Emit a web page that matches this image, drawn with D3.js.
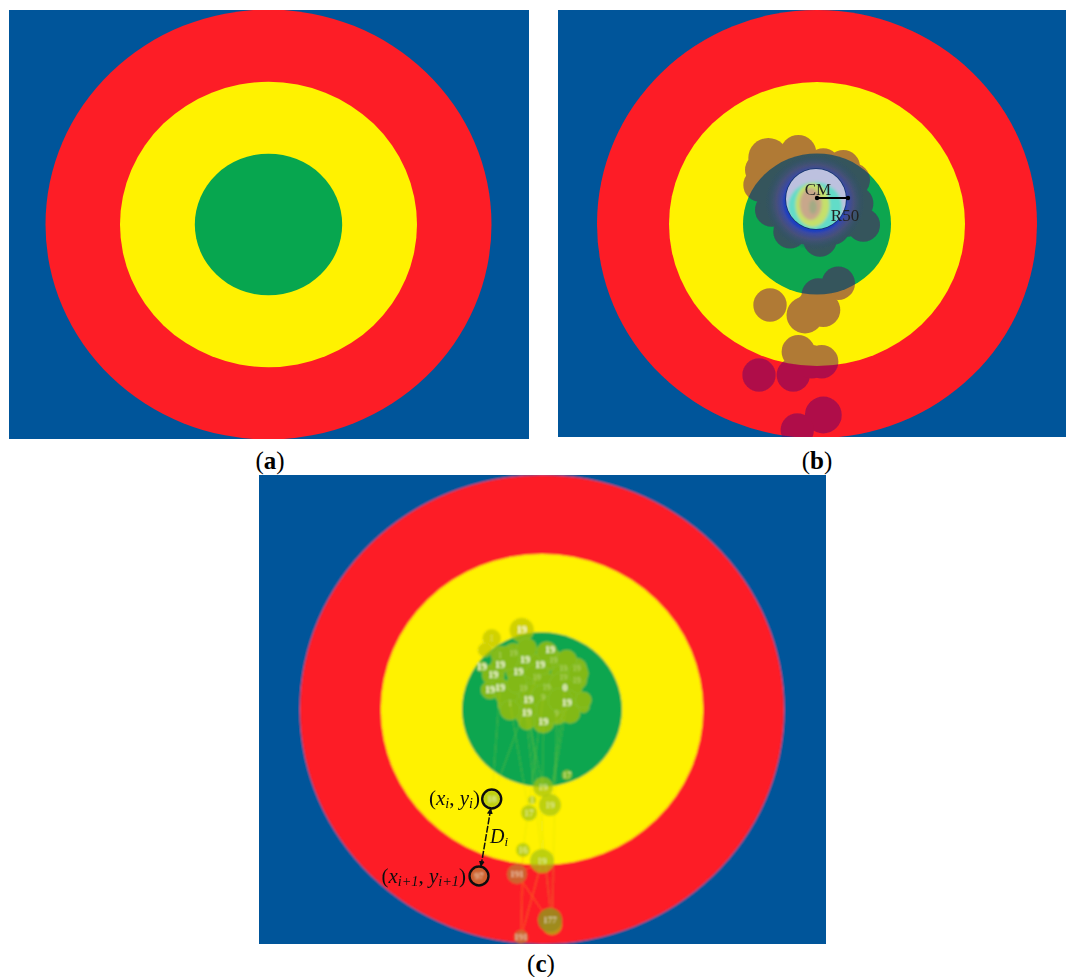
<!DOCTYPE html>
<html><head><meta charset="utf-8">
<script src="https://cdn.jsdelivr.net/npm/d3@7/dist/d3.min.js"></script>
<style>html,body{margin:0;padding:0;background:#fff}svg{display:block}
text{font-family:"Liberation Serif",serif}</style></head><body>
<div id="chart"></div>
<script>
// target ring radii in target units: [x radius, y radius], outermost first
const ringNames = ["red","yellow","green"];
const ringRx = [220,146.5,72.7];
const ringRxB = [220,148,74];
const ringRy = [214,142,70.5];
// panel (b): fixation heat blobs, in target units from the target centre
const heatU = [-48.7,-18.7,6.3,-55.3,-57,-45.3,-27,3,29.7,46.3,39.7,36.3,26.3,-7,-33.7,-47,-17,-0.3,16.3,-17,16.3,-27,-10,16,30,-40,30,21.3,1.3,-47,-12,6.3,-3.7,-18.7,4.7,-23.7,-5.3,-58,6.3,-19.7];
const heatV = [66,71,59,54,39,14,-7.7,-16,4,-1,20.7,44,57.3,54,54,34,20.7,4,20.7,40.7,40.7,8,-4,-4,16,24,32,-59.3,-71,-81,-91,-86,-82.7,-127.7,-137.7,-151,-137.7,-151,-191,-206];
const heatR = [20,18,16.7,16.7,16.7,16.7,16.7,16.7,16.7,16.7,16.7,16.7,16.7,16.7,16.7,16.7,16.7,16.7,16.7,16.7,16.7,16.7,16.7,16.7,16.7,16.7,16.7,16.7,16.7,16.7,18.5,17,16.7,16.7,16.7,16.7,16.7,16.7,18.5,16.7];
// panel (b): core contours of the heat map [centre u, centre v, rx, ry]
const coreU = [-1,-2,-4.5,-6.3,-4];
const coreV = [25,17,19,20,17];
const coreRx = [30,27,17,11,4];
const coreRy = [30,25,22,16,7];
// panel (c): raw gaze points (pixels of the stimulus) and their radii
const gazeX = [262.7,232.7,226,241,254.3,266,281,294.3,304.3,317.7,234.3,241,259.3,277.7,304.3,317.7,231,241,264.3,287.7,306,269.3,284.3,307.7,267.7,284.3,297.7,251,324.3,291,222.7,247.7,267.7,287.7,307.7,319.3,247.7,251,267.7,311,324.3,291,257.7,301];
const gazeY = [155,163.3,175,180,178.3,185,190,185,193.3,193.3,200,190,196.7,201.7,201.7,205,215,213.3,213.3,211.7,213.3,225,221.7,228.3,238.3,246.7,238.3,228.3,231.7,175,191.7,183.3,173.3,176.7,185,198.3,218.3,235,246.7,238.3,225,235,208.3,225];
const gazeR = [12,9,7,9,10,12,12,10,11,10,11,9,12,13,13,10,9,10,12,13,17,17,12,14,12,11,11,12,6,6,5,12,10,10,10,10,12,10,8,10,8,14,10,12];
const lowX = [232.7,270,291,284,308,273,264,283,293];
const lowY = [324,338,330,312,300,325,375,386,450];
const lowR = [9,8,11,10,5,4,7,12,10];
const lateX = [220,258,291,262];
const lateY = [401,399,445,462];
const lateR = [9,10,12,7];
const fixLabels = ["19",null,null,null,null,"19","19",null,null,null,"19","19","19",null,null,null,"19","19",null,null,"0","19",null,"19","19","19",null,null,null,"19","19"];
const faintLabels = [null,"1",null,"1","19",null,null,"19","19","19",null,null,null,"19","19","19",null,null,"19","19",null,null,"9",null,null,null,"9","1"];
const lowLabels = ["18","17","19","19","17","1","16","19",null];
const lateLabels = ["97","191","177","191"];
// saccades from the cluster down to the lower fixations: [from index, to low index]
const linkFrom = [13,20,24,25,26,23,27,22,18,21,17];
const linkTo = [0,2,3,7,8,2,1,6,7,8,0];
const lateFrom = [8,7,7,6,8];
const lateTo = [2,1,3,3,1];
const captions = ["a","b","c"];

const colours = {blue:"#00559a",red:"#fd1d26",yellow:"#fff200",green:"#07a64f"};
const ringFill = [colours.red,colours.yellow,colours.green];
const W=1066,H=977;
const svg=d3.select("#chart").append("svg").attr("width",W).attr("height",H).attr("viewBox",`0 0 ${W} ${H}`);
const defs=svg.append("defs");
const blur=(id,s)=>defs.append("filter").attr("id",id).attr("x","-5%").attr("y","-5%").attr("width","110%").attr("height","110%")
  .append("feGaussianBlur").attr("stdDeviation",s);
blur("soft",0.7);blur("soft2",0.8);blur("ink",0.35);
const bc=defs.append("filter").attr("id","coreblur").attr("x","-30%").attr("y","-30%").attr("width","160%").attr("height","160%");
bc.append("feGaussianBlur").attr("stdDeviation",1.5);

function panel(id,left,top,right,bottom,cx,cy,kx,ky,filter,rx){
  const xd=[(left-cx)/kx,(right-cx)/kx], yd=[(cy-bottom)/ky,(cy-top)/ky];
  const x=d3.scaleLinear().domain(xd).range([left,right]);
  const y=d3.scaleLinear().domain(yd).range([bottom,top]);
  defs.append("clipPath").attr("id","clip"+id).append("rect").attr("x",left).attr("y",top).attr("width",right-left).attr("height",bottom-top);
  const outer=svg.append("g").attr("clip-path",`url(#clip${id})`);
  const g=outer.append("g");
  if(filter) g.attr("filter",`url(#${filter})`);
  g.append("rect").attr("x",left-4).attr("y",top-4).attr("width",right-left+8).attr("height",bottom-top+8).attr("fill",colours.blue);
  g.selectAll("ellipse.ring").data(ringNames).join("ellipse").attr("class","ring")
    .attr("cx",x(0)).attr("cy",y(0))
    .attr("rx",(d,i)=>x(rx[i])-x(0)).attr("ry",(d,i)=>y(0)-y(ringRy[i]))
    .attr("fill",(d,i)=>ringFill[i]);
  return {g,outer,x,y};
}
// (a)
panel("a",9,10,529,439,268.5,224.5,1.0136,1.0047,null,ringRx);

// (b)
const b=panel("b",558,10,1066,437,817,224,1,1,"soft",ringRxB);
const grad=defs.append("radialGradient").attr("id","halo");
[[0,"#1d3fc0",1],[0.6,"#1d3fc0",1],[0.66,"#3a4aa4",1],[0.78,"#4a5080",0.8],[1,"#25506a",0]].forEach(s=>
  grad.append("stop").attr("offset",s[0]).attr("stop-color",s[1]).attr("stop-opacity",s[2]));
const blobs=b.g.append("g").attr("opacity",0.5).attr("fill","#64056a");
blobs.selectAll("circle").data(heatU).join("circle")
  .attr("cx",d=>b.x(d)).attr("cy",(d,i)=>b.y(heatV[i])).attr("r",(d,i)=>heatR[i]);
b.g.append("ellipse").attr("cx",b.x(-2)).attr("cy",b.y(22)).attr("rx",b.x(50)-b.x(0)).attr("ry",b.y(0)-b.y(48)).attr("fill","url(#halo)");
const coreFill=["#bdc1df","#62dcc8","#c5e06a","#c8a78b","#a3ab85"];
b.g.append("circle").attr("cx",b.x(coreU[0])).attr("cy",b.y(coreV[0])).attr("r",b.x(coreRx[0])-b.x(0)+0.8).attr("fill","#12326a");
defs.append("clipPath").attr("id","coreClip").append("circle").attr("cx",b.x(coreU[0])).attr("cy",b.y(coreV[0])).attr("r",b.x(coreRx[0])-b.x(0));
b.g.append("g").attr("clip-path","url(#coreClip)").append("g").attr("filter","url(#coreblur)")
  .selectAll("ellipse").data(coreU).join("ellipse")
  .attr("cx",d=>b.x(d)).attr("cy",(d,i)=>b.y(coreV[i]))
  .attr("rx",(d,i)=>b.x(coreRx[i])-b.x(0)+(i==0?6:0)).attr("ry",(d,i)=>b.y(0)-b.y(coreRy[i])+(i==0?6:0))
  .attr("fill",(d,i)=>coreFill[i]);
// CM / R50 annotation
const cmU=0, cmV=26, r50=31;
const ann=b.outer.append("g").attr("filter","url(#ink)");
ann.append("line").attr("x1",b.x(cmU)).attr("x2",b.x(r50)).attr("y1",b.y(cmV)).attr("y2",b.y(cmV)).attr("stroke","#000").attr("stroke-width",2);
ann.selectAll("circle").data([cmU,r50]).join("circle").attr("cx",d=>b.x(d)).attr("cy",b.y(cmV)).attr("r",2.2).attr("fill","#000");
ann.append("text").attr("x",b.x(1)).attr("y",b.y(cmV)-3).attr("text-anchor","middle").attr("font-size",17).attr("fill","#222").text("CM");
ann.append("text").attr("x",b.x(28)).attr("y",b.y(cmV)+23).attr("text-anchor","middle").attr("font-size",17).attr("fill","#222").text("R50");

// (c)
const c=panel("c",259,475,826,944,542,709.5,1.1,1.0958,"soft2",ringRx);
const gx=d3.scaleLinear().domain([0,567]).range([259,826]);
const gy=d3.scaleLinear().domain([0,469]).range([475,944]);
const links=c.g.append("g").attr("stroke","#c8dc28").attr("stroke-width",0.8).attr("opacity",0.4).attr("fill","none");
links.selectAll("line").data(linkFrom).join("line")
  .attr("x1",d=>gx(gazeX[d])).attr("y1",d=>gy(gazeY[d]))
  .attr("x2",(d,i)=>gx(lowX[linkTo[i]])).attr("y2",(d,i)=>gy(lowY[linkTo[i]]));
const lateLinks=c.g.append("g").attr("stroke","#f59a20").attr("stroke-width",0.8).attr("opacity",0.6);
lateLinks.selectAll("line").data(lateFrom).join("line")
  .attr("x1",d=>gx(lowX[d])).attr("y1",d=>gy(lowY[d]))
  .attr("x2",(d,i)=>gx(lateX[lateTo[i]])).attr("y2",(d,i)=>gy(lateY[lateTo[i]]));
const cluster=c.g.append("g").attr("opacity",0.68);
cluster.selectAll("circle").data(gazeX).join("circle")
  .attr("cx",d=>gx(d)).attr("cy",(d,i)=>gy(gazeY[i])).attr("r",(d,i)=>gazeR[i])
  .attr("fill","#bcc300").attr("stroke","#c4cf28").attr("stroke-width",0.7);
const keep=(arr)=>arr.map((d,i)=>({d,i})).filter(e=>e.d);
c.g.selectAll("text.fx").data(keep(fixLabels)).join("text").attr("class","fx")
  .attr("x",e=>gx(gazeX[e.i])).attr("y",e=>gy(gazeY[e.i])+3).attr("text-anchor","middle")
  .attr("font-size",10).attr("font-weight","bold").attr("fill","#fbfde0").text(e=>e.d);
c.g.selectAll("text.ft").data(keep(faintLabels)).join("text").attr("class","ft")
  .attr("x",e=>gx(gazeX[e.i])).attr("y",e=>gy(gazeY[e.i])+3).attr("text-anchor","middle")
  .attr("font-size",8).attr("opacity",0.55).attr("fill","#eef5b8").text(e=>e.d);
const lows=c.g.append("g");
lows.selectAll("circle").data(lowX).join("circle")
  .attr("cx",d=>gx(d)).attr("cy",(d,i)=>gy(lowY[i])).attr("r",(d,i)=>lowR[i])
  .attr("fill","#a6c312").attr("fill-opacity",0.72);
c.g.selectAll("text.lo").data(keep(lowLabels)).join("text").attr("class","lo")
  .attr("x",e=>gx(lowX[e.i])).attr("y",e=>gy(lowY[e.i])+3).attr("text-anchor","middle")
  .attr("font-size",9).attr("fill","#eef5b8").text(e=>e.d);
c.g.selectAll("circle.late").data(lateX).join("circle").attr("class","late")
  .attr("cx",d=>gx(d)).attr("cy",(d,i)=>gy(lateY[i])).attr("r",(d,i)=>lateR[i])
  .attr("fill",(d,i)=>i==2?"#9c8a1c":"#c96a30").attr("fill-opacity",0.92);
c.g.selectAll("text.la").data(lateLabels).join("text").attr("class","la")
  .attr("x",(d,i)=>gx(lateX[i])).attr("y",(d,i)=>gy(lateY[i])+3).attr("text-anchor","middle")
  .attr("font-size",9).attr("fill","#f7e3c8").text(d=>d);
// annotation on (c)
const ink=c.outer.append("g").attr("filter","url(#ink)");
const ringed=[[lowX[0],lowY[0]],[lateX[0],lateY[0]]];
ink.selectAll("circle.mark").data(ringed).join("circle").attr("class","mark")
  .attr("cx",d=>gx(d[0])).attr("cy",d=>gy(d[1])).attr("r",9.5).attr("fill","none").attr("stroke","#111").attr("stroke-width",2.4);
defs.append("marker").attr("id","ah").attr("viewBox","0 0 6 6").attr("refX",5).attr("refY",3).attr("markerWidth",4).attr("markerHeight",4).attr("orient","auto-start-reverse")
  .append("path").attr("d","M0,0L6,3L0,6Z").attr("fill","#111");
ink.append("line").attr("x1",gx(lowX[0])-1).attr("y1",gy(lowY[0])+10).attr("x2",gx(lateX[0])+2).attr("y2",gy(lateY[0])-10)
  .attr("stroke","#111").attr("stroke-width",1.5).attr("stroke-dasharray","7 1.5").attr("marker-start","url(#ah)").attr("marker-end","url(#ah)");
function mathLabel(xp,yp,size,parts){
  const t=ink.append("text").attr("x",xp).attr("y",yp).attr("text-anchor","end").attr("font-size",size).attr("fill","#111");
  parts.forEach(p=>{
    const s=t.append("tspan").text(p[0]);
    if(p[1]) s.attr("font-style","italic");
    if(p[2]) s.attr("font-size",size*0.68).attr("dy",3);
    if(p[3]) s.attr("dy",-3);
  });
}
mathLabel(480,805,21,[["(",0],["x",1],["i",1,1],[", ",0,0,1],["y",1],["i",1,1],[")",0,0,1]]);
mathLabel(466,883,21,[["(",0],["x",1],["i+1",1,1],[", ",0,0,1],["y",1],["i+1",1,1],[")",0,0,1]]);
const di=ink.append("text").attr("x",490).attr("y",843).attr("font-size",20).attr("font-style","italic").attr("fill","#111");
di.append("tspan").text("D");
di.append("tspan").attr("font-size",13).attr("dy",3).text("i");

// captions
const capX=[270,817,541], capY=[469,469,972];
captions.forEach((k,i)=>{
  const t=svg.append("text").attr("x",capX[i]).attr("y",capY[i]).attr("text-anchor","middle").attr("font-size",25).attr("fill","#000");
  t.append("tspan").text("(");
  t.append("tspan").attr("font-weight","bold").text(k);
  t.append("tspan").text(")");
});
</script></body></html>
